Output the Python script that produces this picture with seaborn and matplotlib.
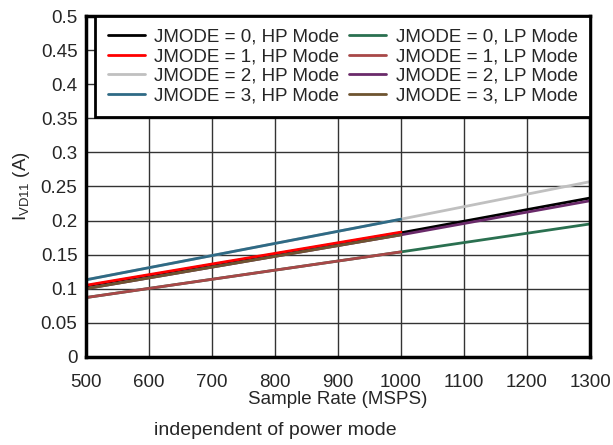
import pandas as pd
import numpy as np
import matplotlib
matplotlib.use('Agg')
import matplotlib.pyplot as plt
import seaborn as sns
from matplotlib.ticker import FormatStrFormatter

# series (sample rate in MSPS, current in A)
labels = ['JMODE = 0, HP Mode', 'JMODE = 1, HP Mode', 'JMODE = 2, HP Mode', 'JMODE = 3, HP Mode',
          'JMODE = 0, LP Mode', 'JMODE = 1, LP Mode', 'JMODE = 2, LP Mode', 'JMODE = 3, LP Mode']
rate_full = [500, 1000, 1300]
rate_low = [500, 1000]
hp0 = [0.104, 0.182, 0.233]
hp1 = [0.105, 0.183]
hp2 = [0.113, 0.202, 0.257]
hp3 = [0.113, 0.202]
lp0 = [0.087, 0.154, 0.195]
lp1 = [0.087, 0.154]
lp2 = [0.100, 0.179, 0.229]
lp3 = [0.100, 0.179]
colors = ['#000000', '#ff0000', '#c0c0c0', '#2f6a85',
          '#2a7050', '#a84848', '#6a2a6a', '#6e5430']

series = [(rate_full, hp0), (rate_low, hp1), (rate_full, hp2), (rate_low, hp3),
          (rate_full, lp0), (rate_low, lp1), (rate_full, lp2), (rate_low, lp3)]
rows = []
for lab, (xs, ys) in zip(labels, series):
    for x, y in zip(xs, ys):
        rows.append({'rate': x, 'current': y, 'mode': lab})
df = pd.DataFrame(rows)

sns.set_style('white')
plt.rcParams['font.family'] = ['Liberation Sans', 'DejaVu Sans']

fig = plt.figure(figsize=(6.13, 4.45), dpi=100)
ax = fig.add_axes([0.140, 0.198, 0.8225, 0.766])

sns.lineplot(data=df, x='rate', y='current', hue='mode', hue_order=labels,
             palette=dict(zip(labels, colors)), sort=False, linewidth=2, ax=ax)

ax.set_xlim(500, 1300)
ax.set_ylim(0, 0.5)
ax.set_xticks(np.arange(500, 1301, 100))
ax.set_yticks(np.arange(0, 0.501, 0.05))
ax.yaxis.set_major_formatter(FormatStrFormatter('%g'))
ax.tick_params(length=0, labelsize=13.5)
ax.tick_params(axis='x', pad=12)
ax.tick_params(axis='y', pad=6)
ax.grid(True, color='#333333', linewidth=1)
ax.set_axisbelow(True)
for s in ax.spines.values():
    s.set_visible(True)
    s.set_color('black')
    s.set_linewidth(2.5)

ax.set_xlabel('Sample Rate (MSPS)', fontsize=13.5, labelpad=0)
ax.set_ylabel(r'I$_{\mathregular{VD11}}$ (A)', fontsize=13.5, labelpad=6)

handles, labs = ax.get_legend_handles_labels()
leg = ax.legend(handles, labs, ncol=2, loc='upper right', bbox_to_anchor=(1, 1),
                borderaxespad=0, fontsize=13.5, frameon=True, fancybox=False,
                edgecolor='black', framealpha=1, handlelength=2.0, handletextpad=0.5,
                labelspacing=0.14, columnspacing=0.5, borderpad=0.65)
leg.get_frame().set_linewidth(2)

fig.text(0.449, 0.033, 'independent of power mode', fontsize=14, ha='center', va='center')

plt.savefig('out.png', dpi=100)
plt.close()
